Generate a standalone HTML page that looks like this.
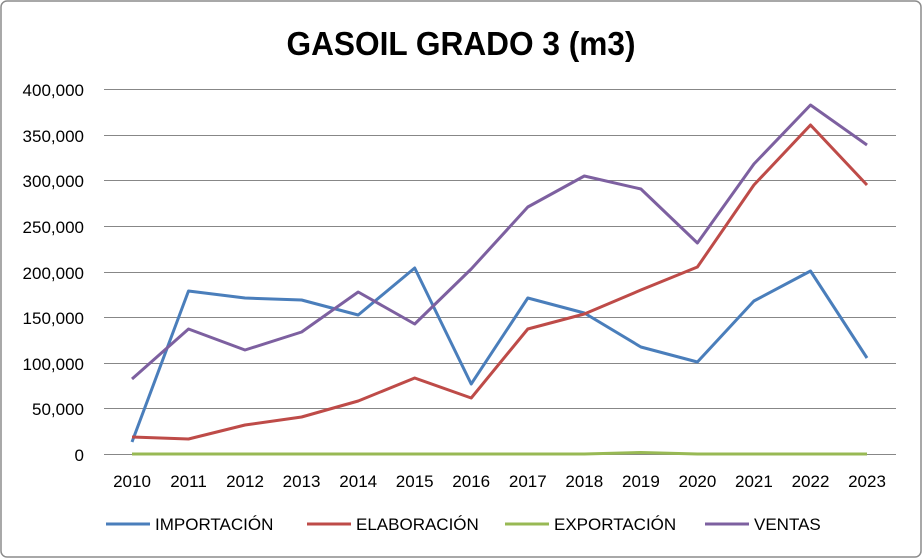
<!DOCTYPE html>
<html><head><meta charset="utf-8"><style>
body{margin:0;background:#fff;}
svg{display:block;font-family:"Liberation Sans",sans-serif;}
</style></head><body>
<svg width="922" height="558" viewBox="0 0 922 558">
<rect x="1" y="1" width="920" height="556" rx="6" fill="#fff" stroke="#8c8c8c" stroke-width="1.5"/>
<text x="461" y="55" text-anchor="middle" font-size="33" font-weight="bold" textLength="349" lengthAdjust="spacingAndGlyphs">GASOIL GRADO 3 (m3)</text>
<g stroke="#878787" stroke-width="1">
<line x1="104" y1="89.5" x2="896" y2="89.5"/><line x1="104" y1="135.5" x2="896" y2="135.5"/>
<line x1="104" y1="180.5" x2="896" y2="180.5"/><line x1="104" y1="226.5" x2="896" y2="226.5"/>
<line x1="104" y1="272.5" x2="896" y2="272.5"/><line x1="104" y1="317.5" x2="896" y2="317.5"/>
<line x1="104" y1="363.5" x2="896" y2="363.5"/><line x1="104" y1="408.5" x2="896" y2="408.5"/>
<line x1="104" y1="454.5" x2="896" y2="454.5"/>
</g>
<g font-size="17" text-anchor="end" fill="#000">
<text x="84" y="96">400,000</text><text x="84" y="142">350,000</text><text x="84" y="187">300,000</text>
<text x="84" y="233">250,000</text><text x="84" y="279">200,000</text><text x="84" y="324">150,000</text>
<text x="84" y="370">100,000</text><text x="84" y="415">50,000</text><text x="84" y="461">0</text>
</g>
<g font-size="17" text-anchor="middle">
<text x="132" y="487">2010</text><text x="188.5" y="487">2011</text><text x="245" y="487">2012</text>
<text x="301.6" y="487">2013</text><text x="358.2" y="487">2014</text><text x="414.7" y="487">2015</text>
<text x="471.2" y="487">2016</text><text x="527.8" y="487">2017</text><text x="584.3" y="487">2018</text>
<text x="640.9" y="487">2019</text><text x="697.4" y="487">2020</text><text x="753.9" y="487">2021</text>
<text x="810.5" y="487">2022</text><text x="867" y="487">2023</text>
</g>
<g fill="none" stroke-width="3" stroke-linejoin="round">
<polyline stroke="#4a7ebb" points="132,442 188.5,291 245,298 301.6,300 358.2,315 414.7,268 471.2,384 527.8,298 584.3,313 640.9,347 697.4,362 753.9,301 810.5,271 867,358"/>
<polyline stroke="#be4b48" points="132,437 188.5,439 245,425 301.6,417 358.2,401 414.7,378 471.2,398 527.8,329 584.3,314 640.9,290 697.4,267 753.9,185 810.5,125 867,185"/>
<polyline stroke="#98b954" points="132,454 188.5,454 245,454 301.6,454 358.2,454 414.7,454 471.2,454 527.8,454 584.3,454 640.9,452.5 697.4,454 753.9,454 810.5,454 867,454"/>
<polyline stroke="#7d60a0" points="132,379 188.5,329 245,350 301.6,332 358.2,292 414.7,324 471.2,269 527.8,207 584.3,176 640.9,189 697.4,243 753.9,164 810.5,105 867,145"/>
</g>
<g stroke-width="3">
<line x1="106" y1="524" x2="150" y2="524" stroke="#4a7ebb"/>
<line x1="307" y1="524" x2="351" y2="524" stroke="#be4b48"/>
<line x1="505" y1="524" x2="549" y2="524" stroke="#98b954"/>
<line x1="705" y1="524" x2="749" y2="524" stroke="#7d60a0"/>
</g>
<g font-size="17">
<text x="155" y="530">IMPORTACIÓN</text><text x="356" y="530">ELABORACIÓN</text>
<text x="554" y="530">EXPORTACIÓN</text><text x="754" y="530">VENTAS</text>
</g>
</svg>
</body></html>
